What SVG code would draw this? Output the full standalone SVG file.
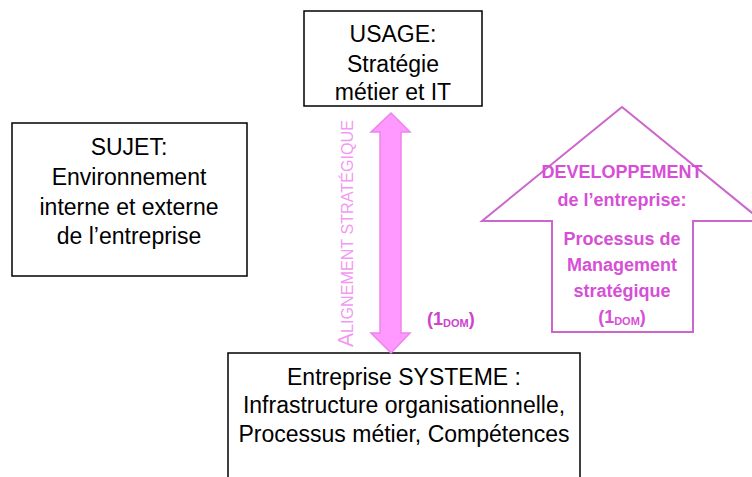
<svg xmlns="http://www.w3.org/2000/svg" width="752" height="477" viewBox="0 0 752 477">
<style>
.box{fill:#fff;stroke:#000;stroke-width:1.5}
.t{font-family:"Liberation Sans",Arial,sans-serif;font-size:23px;fill:#000;text-anchor:middle}
.p{font-family:"Liberation Sans",Arial,sans-serif;font-size:18px;font-weight:bold;fill:#d64fd6;text-anchor:middle}
.al{font-family:"Liberation Sans",Arial,sans-serif;fill:#f29af2}
.dom{font-family:"Liberation Sans",Arial,sans-serif;font-weight:bold;fill:#cc44cc}
</style>
<rect width="752" height="477" fill="#fff"/>
<g id="usage">
<rect class="box" x="304" y="11" width="178" height="95"/>
<text class="t" x="393" y="42" font-size="23.5">USAGE:</text>
<text class="t" x="393" y="72" font-size="23.5">Stratégie</text>
<text class="t" x="393" y="100" font-size="23.5">métier et IT</text>
</g>
<g id="sujet">
<rect class="box" x="12" y="123" width="235" height="153"/>
<text class="t" x="129" y="155" font-size="23.5">SUJET:</text>
<text class="t" x="129" y="185" font-size="23.5">Environnement</text>
<text class="t" x="129" y="215" font-size="23.5">interne et externe</text>
<text class="t" x="129" y="244" font-size="23.5">de l’entreprise</text>
</g>
<g id="systeme">
<rect class="box" x="228" y="353" width="352" height="140"/>
<text class="t" x="404" y="385">Entreprise SYSTEME :</text>
<text class="t" x="404" y="413">Infrastructure organisationnelle,</text>
<text class="t" x="404" y="442">Processus métier, Compétences</text>
</g>
<g id="developpement">
<path d="M622,107 L762,221 L693,221 L693,332 L552,332 L552,221 L482,221 Z" fill="#fff" stroke="#cc66cc" stroke-width="2"/>
<text class="p" x="622" y="178">DEVELOPPEMENT</text>
<text class="p" x="622" y="206">de l’entreprise:</text>
<text class="p" x="622" y="245">Processus de</text>
<text class="p" x="622" y="271">Management</text>
<text class="p" x="622" y="297">stratégique</text>
<text class="p" x="622" y="323">(1<tspan font-size="11" dy="2">DOM</tspan><tspan dy="-2">)</tspan></text>
</g>
<g id="connectors">
<path d="M391,113 L410,132 L401,132 L401,333 L410,333 L391,353 L371,333 L380,333 L380,132 L371,132 Z" fill="#ff99ff" stroke="#ee82ee" stroke-width="1.5"/>
<text class="al" transform="translate(353,347) rotate(-90)" x="0" y="0" textLength="227" lengthAdjust="spacingAndGlyphs"><tspan font-size="22">A</tspan><tspan font-size="17">LIGNEMENT STRATÉGIQUE</tspan></text>
<text class="dom" x="427" y="325" font-size="18">(1<tspan font-size="11" dy="2">DOM</tspan><tspan dy="-2">)</tspan></text>
</g>
</svg>
